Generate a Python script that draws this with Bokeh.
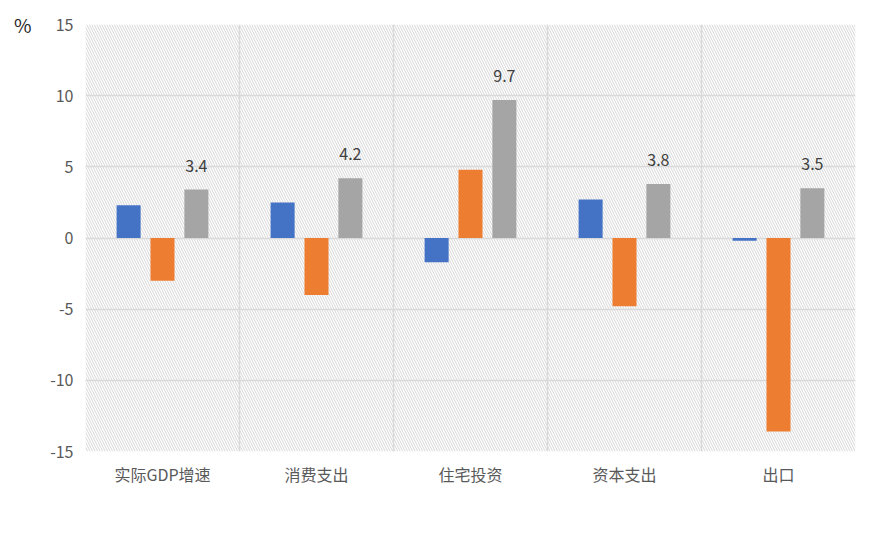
from bokeh.plotting import figure
from bokeh.models import (ColumnDataSource, FixedTicker, BoxAnnotation, Legend, LegendItem,
                          Range1d, LinearAxis)
from bokeh.core.properties import value
from bokeh.embed import file_html
from bokeh.resources import INLINE

categories = ["实际GDP增速", "消费支出", "住宅投资", "资本支出", "出口"]
years = ["2019", "2020", "2021"]
v2019 = [2.3, 2.5, -1.7, 2.7, -0.2]
v2020 = [-3.0, -4.0, 4.8, -4.8, -13.6]
v2021 = [3.4, 4.2, 9.7, 3.8, 3.5]
colors = ["#4472C4", "#ED7D31", "#A5A5A5"]
y_ticks = [-15, -10, -5, 0, 5, 10, 15]
unit_label = "%"

FONT = "Noto Sans CJK SC"

p = figure(frame_width=770, frame_height=427, output_backend="svg", toolbar_location=None,
           x_range=Range1d(0, len(categories)), y_range=Range1d(-15, 15),
           min_border_left=85, min_border_right=24, min_border_top=24, min_border_bottom=100)
p.outline_line_color = None
p.background_fill_color = "white"
p.border_fill_color = "white"

# hatched plot area
hatch = BoxAnnotation(fill_alpha=0, line_alpha=0, hatch_pattern="\\", hatch_color="#cccccc",
                      hatch_scale=5, hatch_weight=0.8, level="image")
p.add_layout(hatch)

centers = [i + 0.5 for i in range(len(categories))]
offsets = [-0.22, 0.0, 0.22]
bw = 0.156
renderers = []
for vals, off, col in zip([v2019, v2020, v2021], offsets, colors):
    src = ColumnDataSource(dict(x=[c + off for c in centers], top=vals))
    r = p.vbar(x="x", top="top", bottom=0, width=bw, source=src, fill_color=col, line_color=None)
    renderers.append(r)

# data labels for 2021
src21 = ColumnDataSource(dict(x=[c + offsets[2] for c in centers], y=v2021,
                              lab=[f"{v:.1f}" for v in v2021]))
p.text(x="x", y="y", text="lab", source=src21, text_align="center", text_baseline="middle",
       y_offset=-24, text_font=value(FONT), text_font_size="16px", text_color="#404040")

# grids
p.xgrid.ticker = FixedTicker(ticks=list(range(len(categories) + 1)))
p.xgrid.grid_line_color = "#d9d9d9"
p.xgrid.grid_line_width = 1.5
p.ygrid.ticker = FixedTicker(ticks=y_ticks)
p.ygrid.grid_line_color = "#d9d9d9"
p.ygrid.grid_line_width = 1.5

# axes
p.xaxis.ticker = FixedTicker(ticks=centers)
p.xaxis.major_label_overrides = {c: n for c, n in zip(centers, categories)}
p.xaxis.major_label_standoff = 10
p.yaxis.ticker = FixedTicker(ticks=y_ticks)
p.yaxis.major_label_overrides = {t: str(t) for t in y_ticks}
p.yaxis.major_label_standoff = 12
for ax in (p.xaxis, p.yaxis):
    ax.axis_line_color = None
    ax.major_tick_line_color = None
    ax.minor_tick_line_color = None
    ax.major_tick_out = 0
    ax.minor_tick_out = 0
    ax.major_label_text_font = FONT
    ax.major_label_text_font_size = "16px"
    ax.major_label_text_color = "#595959"

# unit label "%" as an outer axis
pct = LinearAxis(ticker=FixedTicker(ticks=[y_ticks[-1]]),
                 major_label_overrides={y_ticks[-1]: unit_label},
                 axis_line_color=None, major_tick_line_color=None, minor_tick_line_color=None,
                 major_tick_out=0, minor_tick_out=0, major_label_standoff=16,
                 major_label_text_font=FONT, major_label_text_font_size="19px",
                 major_label_text_color="#262626")
p.add_layout(pct, "left")

legend = Legend(items=[LegendItem(label=y, renderers=[r]) for y, r in zip(years, renderers)],
                orientation="horizontal", location="center", padding=0, margin=22,
                border_line_color=None, background_fill_alpha=0,
                glyph_width=11, glyph_height=11, label_standoff=6, spacing=9, label_height=20,
                label_text_font=FONT, label_text_font_size="16px", label_text_color="#595959")
p.add_layout(legend, "below")

open("out.html", "w").write(file_html(p, INLINE))
